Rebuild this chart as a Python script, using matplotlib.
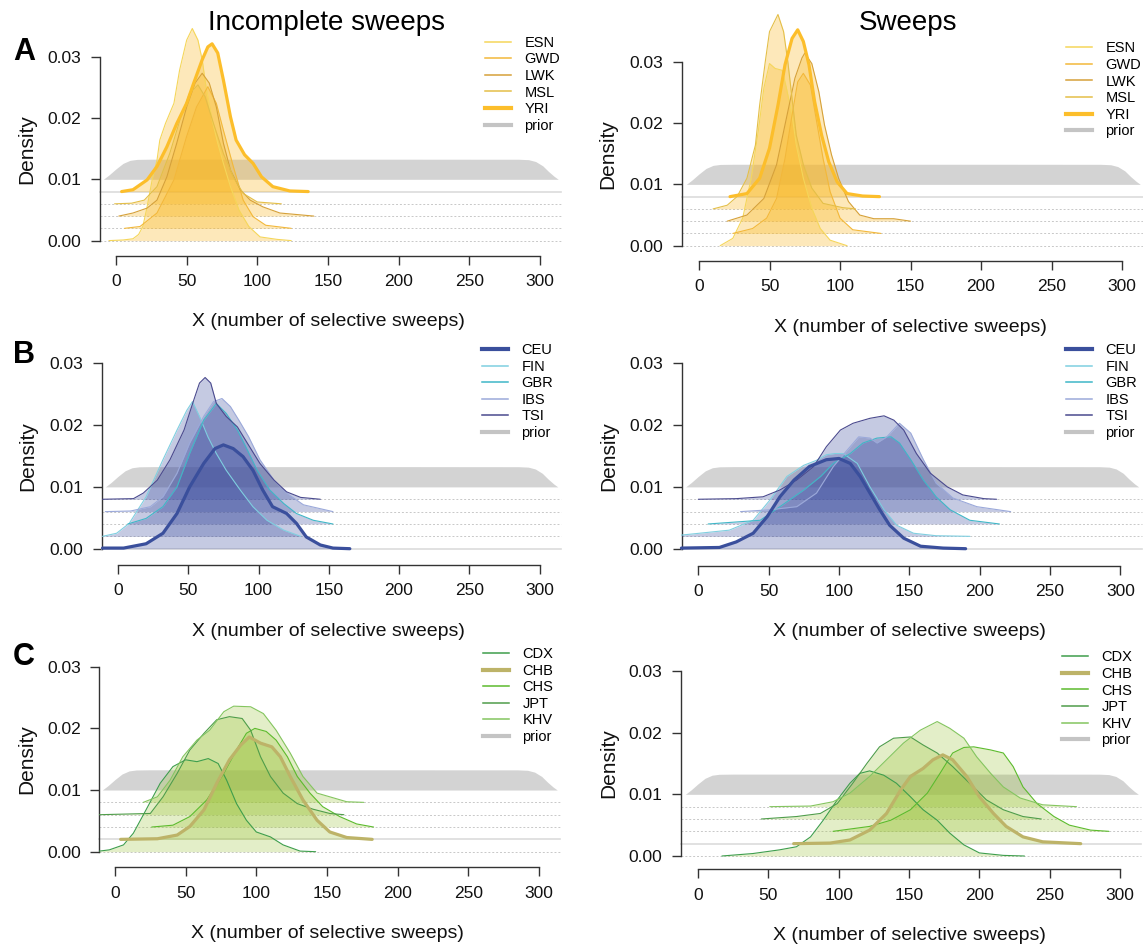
import matplotlib
matplotlib.use("Agg")
import matplotlib.pyplot as plt
from matplotlib.lines import Line2D
from matplotlib.ticker import FormatStrFormatter
import numpy as np

plt.rcParams['font.family'] = ['Liberation Sans', 'DejaVu Sans']

W, H = 1143, 951

# prior (same in every panel, drawn at 0.01)
prior_x = [-9, -5, 0, 5, 10, 15, 25, 100, 200, 285, 292, 297, 302, 306, 310, 313]
prior_d = [0, 0.0007, 0.0017, 0.0026, 0.0031, 0.00325, 0.00328, 0.00328, 0.00328, 0.00327,
           0.0032, 0.0029, 0.0022, 0.0013, 0.0005, 0]

# A, incomplete sweeps
esn_inc_x = [-5, 5, 12, 16, 19, 22, 26, 29, 31, 35, 41, 45, 50, 54, 58, 61, 64, 68, 72, 76, 81, 87, 94, 102, 114, 124]
esn_inc_d = [0, 0.0001, 0.0003, 0.0010, 0.0023, 0.0055, 0.0104, 0.0131, 0.0164, 0.0191, 0.0224, 0.0278, 0.0327,
             0.0346, 0.0327, 0.0295, 0.0246, 0.0197, 0.0159, 0.0126, 0.0088, 0.0050, 0.0023, 0.0006, 0.0002, 0]
gwd_inc_x = [6, 17, 29, 41, 50, 57, 65, 71, 76, 83, 90, 97, 106, 124]
gwd_inc_d = [0, 0.0003, 0.0025, 0.0079, 0.0150, 0.0198, 0.0231, 0.0204, 0.0160, 0.0101, 0.0046, 0.0019, 0.0005, 0]
lwk_inc_x = [2, 12, 22, 29, 36, 43, 50, 56, 61, 66, 71, 76, 81, 88, 95, 104, 116, 140]
lwk_inc_d = [0, 0.0005, 0.0013, 0.0026, 0.0064, 0.0119, 0.0178, 0.0217, 0.0233, 0.0217, 0.0178, 0.0119, 0.0075,
             0.0043, 0.0026, 0.0015, 0.0005, 0]
msl_inc_x = [-1, 11, 20, 29, 38, 46, 52, 58, 63, 69, 76, 83, 90, 100, 117]
msl_inc_d = [0, 0.0001, 0.0006, 0.0028, 0.0082, 0.0142, 0.0180, 0.0194, 0.0175, 0.0131, 0.0082, 0.0044, 0.0017, 0.0003, 0]
yri_inc_x = [4, 12, 22, 29, 36, 43, 50, 55, 61, 65, 68, 72, 76, 81, 85, 91, 97, 103, 111, 123, 136]
yri_inc_d = [0, 0.0003, 0.0019, 0.0041, 0.0073, 0.0111, 0.0144, 0.0177, 0.0215, 0.0236, 0.0241, 0.0226, 0.0182,
             0.0122, 0.0084, 0.0060, 0.0046, 0.0024, 0.0008, 0.0001, 0]

# A, sweeps
esn_sw_x = [15, 24, 31, 37, 42, 46, 50, 54, 59, 62, 66, 69, 74, 80, 86, 93, 105]
esn_sw_d = [0, 0.0012, 0.0045, 0.0110, 0.0186, 0.0257, 0.0297, 0.0289, 0.0286, 0.0257, 0.0213, 0.0164, 0.0110,
            0.0061, 0.0028, 0.0009, 0]
gwd_sw_x = [24, 38, 48, 55, 61, 66, 70, 74, 79, 83, 88, 93, 100, 109, 129]
gwd_sw_d = [0, 0.0008, 0.0025, 0.0057, 0.0122, 0.0193, 0.0247, 0.0261, 0.0242, 0.0188, 0.0122, 0.0068, 0.0025, 0.0006, 0]
lwk_sw_x = [20, 34, 46, 55, 62, 68, 73, 75, 80, 85, 89, 94, 99, 106, 114, 124, 138, 150]
lwk_sw_d = [0, 0.0010, 0.0037, 0.0092, 0.0168, 0.0233, 0.0266, 0.0274, 0.0257, 0.0211, 0.0157, 0.0108, 0.0070,
            0.0032, 0.0010, 0.0004, 0.0004, 0]
msl_sw_x = [10, 20, 27, 34, 40, 43, 47, 50, 56, 60, 63, 66, 69, 74, 80, 88, 102, 111]
msl_sw_d = [0, 0.0006, 0.0020, 0.0050, 0.0104, 0.0169, 0.0240, 0.0289, 0.0317, 0.0289, 0.0240, 0.0180, 0.0120,
            0.0072, 0.0034, 0.0009, 0.0002, 0]
yri_sw_x = [22, 34, 43, 50, 56, 61, 66, 70, 74, 78, 82, 87, 92, 98, 105, 116, 128]
yri_sw_d = [0, 0.0005, 0.0030, 0.0079, 0.0149, 0.0215, 0.0258, 0.0272, 0.0253, 0.0215, 0.0155, 0.0100, 0.0057,
            0.0024, 0.0005, 0.0001, 0]

# B, incomplete sweeps
ceu_inc_x = [-11, 4, 20, 32, 42, 51, 61, 69, 75, 82, 89, 96, 103, 110, 120, 127, 134, 144, 153, 165]
ceu_inc_d = [0.0001, 0.0001, 0.0008, 0.0025, 0.0057, 0.0100, 0.0138, 0.0162, 0.0168, 0.0162, 0.0149, 0.0127,
             0.0095, 0.0068, 0.0057, 0.0041, 0.0019, 0.0006, 0.0001, 0]
fin_inc_x = [-11, -1, 8, 20, 32, 42, 49, 53, 58, 64, 70, 77, 87, 96, 106, 118, 130]
fin_inc_d = [0, 0.0005, 0.0021, 0.0064, 0.0124, 0.0172, 0.0204, 0.0218, 0.0194, 0.0161, 0.0134, 0.0107, 0.0075,
             0.0048, 0.0026, 0.0010, 0]
gbr_inc_x = [7, 20, 32, 42, 51, 61, 70, 77, 85, 92, 99, 108, 118, 127, 139, 153]
gbr_inc_d = [0, 0.0009, 0.0028, 0.0060, 0.0114, 0.0168, 0.0195, 0.0179, 0.0152, 0.0120, 0.0087, 0.0055, 0.0033,
             0.0017, 0.0006, 0]
ibs_inc_x = [-9, 9, 23, 32, 42, 51, 61, 68, 74, 80, 86, 93, 101, 111, 120, 132, 153]
ibs_inc_d = [0, 0.0001, 0.0008, 0.0024, 0.0062, 0.0111, 0.0154, 0.0178, 0.0183, 0.0170, 0.0148, 0.0121, 0.0084,
             0.0051, 0.0030, 0.0011, 0]
tsi_inc_x = [-11, 11, 18, 28, 37, 47, 54, 58, 62, 66, 70, 77, 85, 92, 101, 111, 120, 130, 144]
tsi_inc_d = [0, 0.0001, 0.0010, 0.0031, 0.0064, 0.0112, 0.0161, 0.0188, 0.0197, 0.0188, 0.0155, 0.0134, 0.0117,
             0.0091, 0.0058, 0.0031, 0.0012, 0.0003, 0]

# B, sweeps
ceu_sw_x = [-12, 15, 27, 39, 49, 58, 68, 79, 91, 100, 108, 115, 122, 129, 136, 146, 158, 174, 190]
ceu_sw_d = [0.0001, 0.0002, 0.0011, 0.0025, 0.0052, 0.0084, 0.0111, 0.0133, 0.0144, 0.0146, 0.0138, 0.0117,
            0.0090, 0.0063, 0.0038, 0.0017, 0.0004, 0.0001, 0]
fin_sw_x = [-12, 22, 39, 51, 63, 75, 84, 91, 97, 103, 113, 122, 132, 141, 153, 169, 193]
fin_sw_d = [0.0002, 0.0010, 0.0026, 0.0059, 0.0097, 0.0115, 0.0123, 0.0132, 0.0134, 0.0134, 0.0118, 0.0080,
            0.0043, 0.0018, 0.0005, 0.0001, 0]
gbr_sw_x = [7, 44, 58, 75, 87, 96, 108, 117, 127, 137, 143, 151, 160, 169, 179, 193, 214]
gbr_sw_d = [0, 0.0006, 0.0028, 0.0055, 0.0077, 0.0098, 0.0114, 0.0131, 0.0139, 0.0141, 0.0131, 0.0104, 0.0071,
            0.0044, 0.0023, 0.0006, 0]
ibs_sw_x = [30, 51, 70, 84, 96, 106, 114, 122, 127, 134, 143, 151, 160, 169, 181, 198, 222]
ibs_sw_d = [0, 0.0003, 0.0008, 0.0030, 0.0073, 0.0100, 0.0121, 0.0119, 0.0111, 0.0121, 0.0143, 0.0127, 0.0084,
            0.0046, 0.0022, 0.0008, 0]
tsi_sw_x = [0, 27, 46, 58, 70, 82, 91, 101, 110, 122, 132, 139, 146, 155, 165, 177, 188, 203, 212]
tsi_sw_d = [0, 0.0001, 0.0004, 0.0015, 0.0031, 0.0053, 0.0085, 0.0112, 0.0123, 0.0131, 0.0135, 0.0128, 0.0112,
            0.0074, 0.0042, 0.0020, 0.0007, 0.0001, 0]

# C, incomplete sweeps
cdx_inc_x = [-11, -4, 6, 13, 22, 32, 41, 50, 58, 66, 73, 79, 86, 93, 100, 110, 119, 131, 142]
cdx_inc_d = [0.0001, 0.0003, 0.0011, 0.0030, 0.0068, 0.0111, 0.0138, 0.0149, 0.0146, 0.0151, 0.0143, 0.0116,
             0.0078, 0.0051, 0.0032, 0.0024, 0.0011, 0.0001, 0]
chb_inc_x = [4, 30, 44, 53, 63, 72, 81, 89, 95, 103, 111, 117, 124, 133, 143, 152, 164, 182]
chb_inc_d = [0, 0.0001, 0.0007, 0.0021, 0.0048, 0.0091, 0.0129, 0.0153, 0.0166, 0.0156, 0.0150, 0.0134, 0.0102,
             0.0064, 0.0031, 0.0012, 0.0003, 0]
chs_inc_x = [26, 41, 53, 65, 77, 86, 93, 99, 107, 114, 122, 129, 138, 147, 159, 171, 183]
chs_inc_d = [0, 0.0003, 0.0017, 0.0044, 0.0087, 0.0125, 0.0152, 0.0160, 0.0155, 0.0141, 0.0114, 0.0082, 0.0055,
             0.0033, 0.0017, 0.0005, 0]
jpt_inc_x = [-11, 25, 34, 44, 53, 63, 72, 81, 90, 96, 103, 110, 119, 129, 140, 152, 162]
jpt_inc_d = [0, 0.0002, 0.0029, 0.0067, 0.0105, 0.0132, 0.0154, 0.0159, 0.0156, 0.0137, 0.0094, 0.0062, 0.0035,
             0.0018, 0.0009, 0.0002, 0]
khv_inc_x = [20, 30, 39, 48, 58, 67, 77, 84, 96, 105, 114, 124, 133, 143, 152, 164, 176]
khv_inc_d = [0, 0.0009, 0.0036, 0.0074, 0.0101, 0.0117, 0.0147, 0.0156, 0.0155, 0.0144, 0.0117, 0.0080, 0.0042,
             0.0015, 0.0009, 0.0001, 0]

# C, sweeps
cdx_sw_x = [17, 39, 58, 70, 80, 89, 99, 108, 115, 122, 132, 141, 151, 160, 170, 179, 189, 200, 217, 232]
cdx_sw_d = [0, 0.0004, 0.0010, 0.0015, 0.0031, 0.0058, 0.0091, 0.0118, 0.0134, 0.0138, 0.0131, 0.0118, 0.0096,
            0.0075, 0.0058, 0.0037, 0.0018, 0.0005, 0.0001, 0]
chb_sw_x = [68, 94, 108, 122, 134, 144, 151, 160, 167, 174, 181, 191, 200, 210, 219, 231, 245, 272]
chb_sw_d = [0, 0.0001, 0.0006, 0.0022, 0.0049, 0.0087, 0.0109, 0.0122, 0.0136, 0.0144, 0.0136, 0.0109, 0.0076,
            0.0049, 0.0028, 0.0011, 0.0003, 0]
chs_sw_x = [96, 122, 137, 151, 163, 172, 181, 189, 196, 208, 217, 224, 231, 241, 253, 264, 279, 292]
chs_sw_d = [0, 0.0008, 0.0018, 0.0035, 0.0062, 0.0094, 0.0127, 0.0136, 0.0137, 0.0132, 0.0127, 0.0105, 0.0072,
            0.0045, 0.0024, 0.0010, 0.0002, 0]
jpt_sw_x = [45, 70, 87, 99, 110, 120, 129, 139, 151, 160, 170, 181, 193, 205, 217, 231, 244]
jpt_sw_d = [0, 0.0004, 0.0009, 0.0025, 0.0058, 0.0090, 0.0117, 0.0131, 0.0133, 0.0120, 0.0107, 0.0085, 0.0058,
            0.0031, 0.0015, 0.0004, 0]
khv_sw_x = [51, 80, 96, 108, 122, 134, 146, 158, 170, 179, 189, 198, 208, 217, 229, 245, 269]
khv_sw_d = [0, 0.0001, 0.0008, 0.0022, 0.0049, 0.0076, 0.0103, 0.0124, 0.0138, 0.0127, 0.0111, 0.0081, 0.0054,
            0.0032, 0.0014, 0.0003, 0]

afr_pops = ["ESN", "GWD", "LWK", "MSL", "YRI"]
eur_pops = ["CEU", "FIN", "GBR", "IBS", "TSI"]
eas_pops = ["CDX", "CHB", "CHS", "JPT", "KHV"]
afr_cols = ["#F5D65A", "#F3B83A", "#D6A139", "#E4BF48", "#FCBE2B"]
eur_cols = ["#3A4F9C", "#7FCFE0", "#3FB7C7", "#9BA9DA", "#4A4A8E"]
eas_cols = ["#3E9E4C", "#BDB368", "#5CBB2D", "#4F9D4A", "#84C55F"]

fig = plt.figure(figsize=(W / 100, H / 100), dpi=100)


def panel(x0, sx, y0, sy, spine_px, xaxis_py):
    xl, yl = (-14, 318), (-0.004, 0.040)
    left, right = x0 + xl[0] * sx, x0 + xl[1] * sx
    top, bottom = y0 - yl[1] * sy, y0 - yl[0] * sy
    ax = fig.add_axes([left / W, 1 - bottom / H, (right - left) / W, (bottom - top) / H])
    ax.set_xlim(xl); ax.set_ylim(yl)
    ax.patch.set_visible(False)
    ax.spines["top"].set_visible(False); ax.spines["right"].set_visible(False)
    ax.spines["left"].set_position(("data", (spine_px - x0) / sx))
    ax.spines["left"].set_bounds(0, 0.03)
    ax.spines["bottom"].set_position(("data", (y0 - xaxis_py) / sy))
    ax.spines["bottom"].set_bounds(0, 300)
    for s in ("left", "bottom"):
        ax.spines[s].set_color("#333333"); ax.spines[s].set_linewidth(1.0)
    ax.set_xticks(range(0, 301, 50)); ax.set_yticks([0, 0.01, 0.02, 0.03])
    ax.yaxis.set_major_formatter(FormatStrFormatter("%.2f"))
    ax.tick_params(length=6.8, width=1.0, color="#333333", labelsize=12.5, pad=6.5, labelcolor="#111111")
    return ax, (spine_px - x0) / sx


def draw(ax, xstart, pops, cols, series, hl, fill, fill_alpha, leg_px, leg_py):
    ax.fill_between(prior_x, 0.01, 0.01 + np.array(prior_d), color="#D3D3D3", lw=0, zorder=1)
    for i, p in enumerate(pops):
        off = 0.002 * i
        if p == hl:
            ax.plot([xstart, 315], [off, off], color="#DCDCDC", lw=1.2, zorder=2)
        else:
            ax.plot([xstart, 315], [off, off], color="#C8C8C8", lw=0.7, ls=(0, (2, 2)), zorder=2)
    for i in reversed(range(len(pops))):
        p = pops[i]
        xs, ds = series[p]
        off = 0.002 * i
        yy = off + np.array(ds)
        ax.fill_between(xs, off, yy, color=fill, alpha=fill_alpha, lw=0, zorder=3)
    for i, p in enumerate(pops):
        xs, ds = series[p]
        yy = 0.002 * i + np.array(ds)
        thick = p == hl
        ax.plot(xs, yy, color=cols[i], lw=2.3 if thick else 0.8, zorder=6 if thick else 5,
                solid_capstyle="round", solid_joinstyle="round", clip_on=False)
    handles = [Line2D([], [], color=c, lw=3.0 if p == hl else 1.1) for p, c in zip(pops, cols)]
    handles.append(Line2D([], [], color="#C4C4C4", lw=3.0))
    ax.legend(handles, pops + ["prior"], loc="upper left", bbox_to_anchor=(leg_px / W, 1 - (leg_py - 7) / H),
              bbox_transform=fig.transFigure, frameon=False, fontsize=10.5, handlelength=1.8,
              handletextpad=0.9, labelspacing=0.18, borderpad=0, borderaxespad=0)


afr_inc = {"ESN": (esn_inc_x, esn_inc_d), "GWD": (gwd_inc_x, gwd_inc_d), "LWK": (lwk_inc_x, lwk_inc_d),
           "MSL": (msl_inc_x, msl_inc_d), "YRI": (yri_inc_x, yri_inc_d)}
afr_sw = {"ESN": (esn_sw_x, esn_sw_d), "GWD": (gwd_sw_x, gwd_sw_d), "LWK": (lwk_sw_x, lwk_sw_d),
          "MSL": (msl_sw_x, msl_sw_d), "YRI": (yri_sw_x, yri_sw_d)}
eur_inc = {"CEU": (ceu_inc_x, ceu_inc_d), "FIN": (fin_inc_x, fin_inc_d), "GBR": (gbr_inc_x, gbr_inc_d),
           "IBS": (ibs_inc_x, ibs_inc_d), "TSI": (tsi_inc_x, tsi_inc_d)}
eur_sw = {"CEU": (ceu_sw_x, ceu_sw_d), "FIN": (fin_sw_x, fin_sw_d), "GBR": (gbr_sw_x, gbr_sw_d),
          "IBS": (ibs_sw_x, ibs_sw_d), "TSI": (tsi_sw_x, tsi_sw_d)}
eas_inc = {"CDX": (cdx_inc_x, cdx_inc_d), "CHB": (chb_inc_x, chb_inc_d), "CHS": (chs_inc_x, chs_inc_d),
           "JPT": (jpt_inc_x, jpt_inc_d), "KHV": (khv_inc_x, khv_inc_d)}
eas_sw = {"CDX": (cdx_sw_x, cdx_sw_d), "CHB": (chb_sw_x, chb_sw_d), "CHS": (chs_sw_x, chs_sw_d),
          "JPT": (jpt_sw_x, jpt_sw_d), "KHV": (khv_sw_x, khv_sw_d)}

rows = [
    (afr_pops, afr_cols, afr_inc, afr_sw, "YRI", "#F9BA2A", 0.32,
     (116, 1.413, 240.6, 6130, 100, 256, 27, 322, 485, 42.7),
     (699, 1.41, 245.7, 6133, 681.7, 260.7, 608, 327, 1066, 48.3), ("A", 52)),
    (eur_pops, eur_cols, eur_inc, eur_sw, "CEU", "#4050A0", 0.30,
     (118, 1.405, 548.7, 6180, 101.7, 565, 28, 631, 482, 350),
     (698.3, 1.407, 548.7, 6180, 681.7, 566, 609, 632, 1066, 350), ("B", 355)),
    (eas_pops, eas_cols, eas_inc, eas_sw, "CHB", "#9CC33A", 0.28,
     (115, 1.413, 851.7, 6167, 99.3, 867.3, 27, 933, 483, 654),
     (698, 1.407, 856, 6167, 680.7, 869.3, 609, 936, 1062, 657.3), ("C", 657)),
]

for pops, cols, s_inc, s_sw, hl, fill, fa, g_l, g_r, (letter, ly) in rows:
    for g, series in ((g_l, s_inc), (g_r, s_sw)):
        x0, sx, y0, sy, sp, xa, dx, xly, lgx, lgy = g
        ax, xstart = panel(x0, sx, y0, sy, sp, xa)
        draw(ax, xstart, pops, cols, series, hl, fill, fa, lgx, lgy)
        fig.text(dx / W, 1 - (y0 - 0.015 * sy) / H, "Density", rotation=90, ha="center", va="center",
                 fontsize=15, color="#111111")
        fig.text((x0 + 150 * sx) / W, 1 - xly / H, "X (number of selective sweeps)", ha="center",
                 va="center", fontsize=14, color="#111111")
    fig.text(24 / W, 1 - ly / H, letter, ha="center", va="center", fontsize=22, fontweight="bold")

fig.text(327 / W, 1 - 23 / H, "Incomplete sweeps", ha="center", va="center", fontsize=20)
fig.text(908 / W, 1 - 23 / H, "Sweeps", ha="center", va="center", fontsize=20)

fig.savefig("out.png", dpi=100)
